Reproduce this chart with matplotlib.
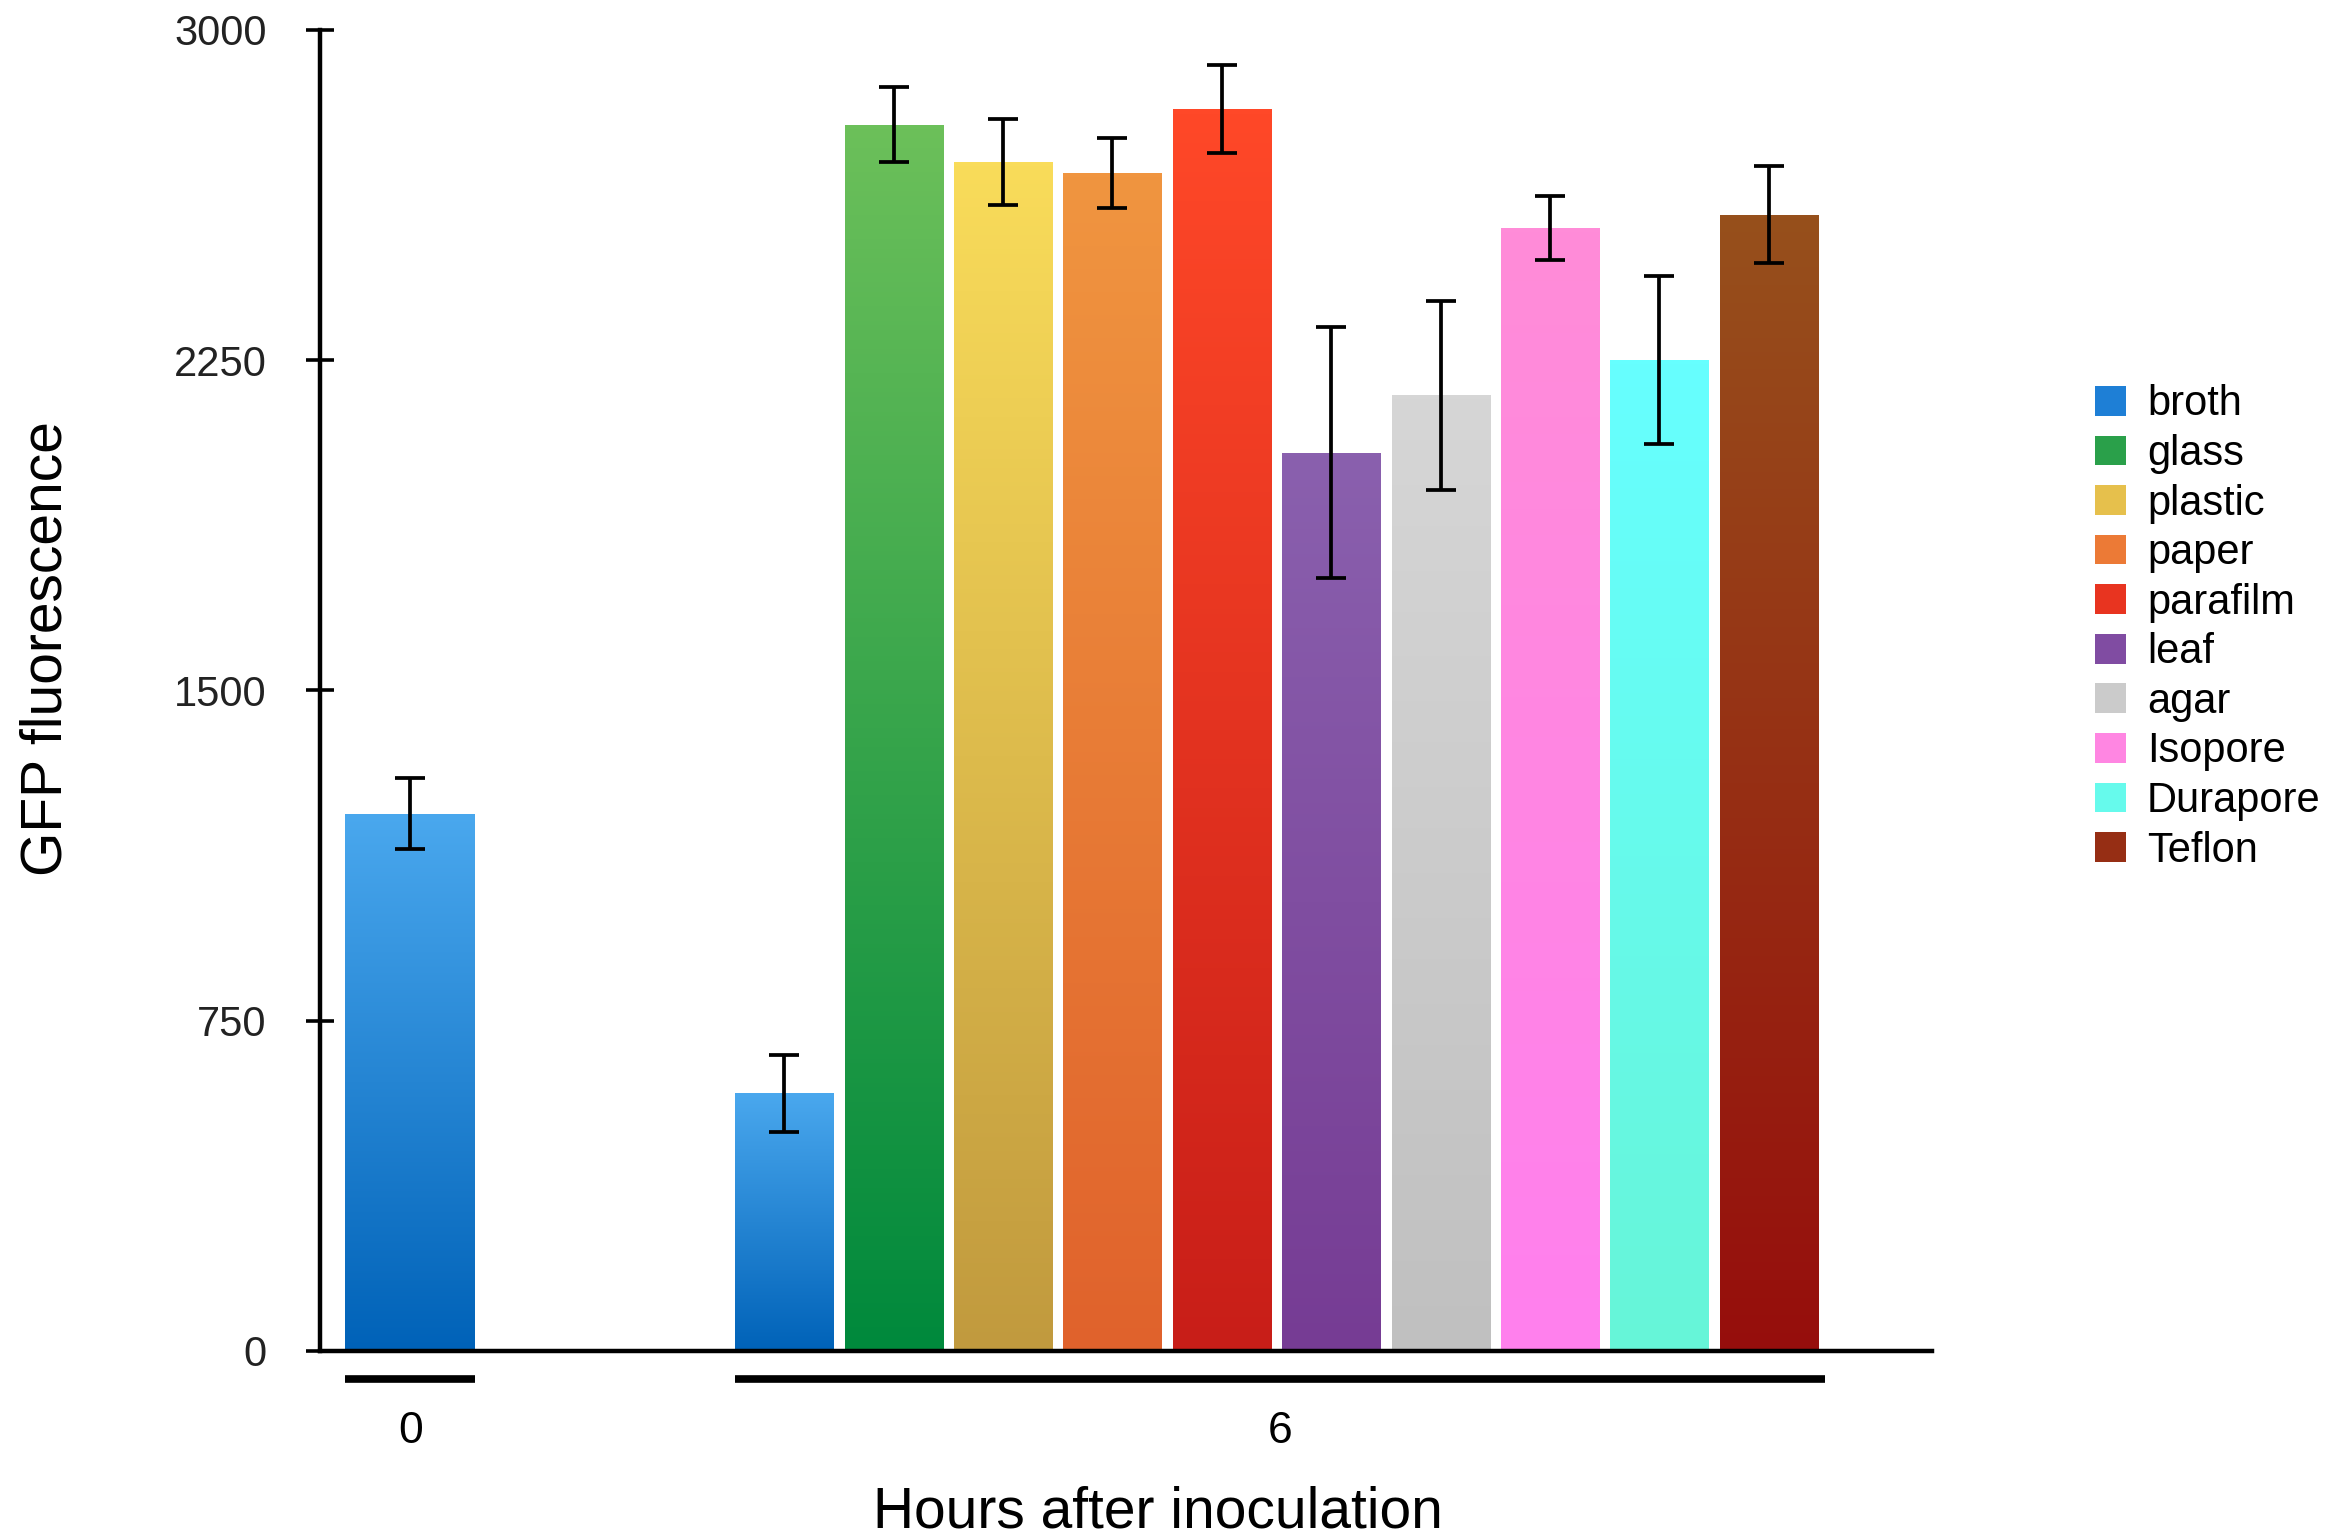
import matplotlib
matplotlib.use("Agg")
import matplotlib.pyplot as plt
import numpy as np
from matplotlib.colors import LinearSegmentedColormap
from matplotlib.patches import Patch
import matplotlib.transforms as mtransforms

# ---- data ----
surfaces = ["broth", "glass", "plastic", "paper", "parafilm", "leaf", "agar",
            "Isopore", "Durapore", "Teflon"]
hours = ["0", "6"]
broth_0h = 1220
broth_0h_err = 80
values_6h = [585, 2785, 2700, 2675, 2820, 2040, 2170, 2550, 2250, 2580]
errors_6h = [88, 85, 98, 80, 100, 285, 215, 72, 190, 110]
yticks = [0, 750, 1500, 2250, 3000]

top_colors = ["#4AA8EE", "#6CC05A", "#F9DC5A", "#F09540", "#FF4828",
              "#8A60AE", "#D6D6D6", "#FF8CD8", "#66FFFF", "#96501C"]
bot_colors = ["#0062B8", "#00893C", "#C19A3E", "#E0622C", "#C81E18",
              "#763C94", "#C0C0C0", "#FF80EE", "#66F5D8", "#960E0C"]
legend_colors = ["#1E7FD6", "#2AA04A", "#E6C04C", "#EC7A36", "#E83420",
                 "#804CA2", "#CBCBCB", "#FF86E2", "#66FAEC", "#962E14"]

plt.rcParams['font.family'] = ['Liberation Sans', 'DejaVu Sans']

fig = plt.figure(figsize=(23.33, 15.38), dpi=100)
ax = fig.add_axes([0.137, 0.1216, 0.691, 0.859])

x0 = 0.75
w0 = 1.19
x6 = 4.18 + np.arange(len(values_6h)) * 1.003
w6 = 0.9

def grad_bar(x, h, w, ci):
    bars = ax.bar(x, h, width=w, color=bot_colors[ci], edgecolor="none", zorder=2)
    for b in bars:
        bx, by = b.get_x(), b.get_y()
        bw, bh = b.get_width(), b.get_height()
        cmap = LinearSegmentedColormap.from_list("g", [bot_colors[ci], top_colors[ci]])
        grad = np.linspace(0, 1, 256).reshape(-1, 1)
        im = ax.imshow(grad, cmap=cmap, origin="lower", aspect="auto",
                       extent=[bx, bx + bw, by, by + bh], zorder=2.5)
        im.set_clip_path(b)

grad_bar([x0], [broth_0h], w0, 0)
for i, (x, v) in enumerate(zip(x6, values_6h)):
    grad_bar([x], [v], w6, i)

ekw = dict(fmt="none", ecolor="black", elinewidth=2.7, capsize=11, capthick=2.7, zorder=4)
ax.errorbar([x0], [broth_0h], yerr=[broth_0h_err], **ekw)
ax.errorbar(x6, values_6h, yerr=errors_6h, **ekw)

ax.set_xlim(-0.08, 14.7)
ax.set_ylim(0, 3000)
ax.set_yticks(yticks)
ax.set_yticklabels([str(t) for t in yticks], fontsize=30, color="#222222")
ax.tick_params(axis="y", direction="inout", length=20, width=2.6, pad=28)
ax.set_xticks([])
for s in ["top", "right"]:
    ax.spines[s].set_visible(False)
ax.spines["left"].set_linewidth(3.2)
ax.spines["bottom"].set_linewidth(3.2)
ax.set_facecolor("white")

ax.set_ylabel("GFP fluorescence", fontsize=41, labelpad=72)
ax.yaxis.label.set_y(0.532)

# group brackets
trans = mtransforms.blended_transform_factory(ax.transData, ax.transAxes)
groups = [(x0 - w0 / 2, x0 + w0 / 2), (x6[0] - w6 / 2, x6[-1] + w6 / 2 + 0.06)]
for (a, b), lab in zip(groups, hours):
    ax.plot([a, b], [-0.021, -0.021], color="black", lw=5.5, transform=trans,
            clip_on=False, solid_capstyle="butt")
    ax.text((a + b) / 2, -0.061, lab, transform=trans, ha="center", va="center",
            fontsize=32)

fig.text(1158 / 2333, 1 - 1512 / 1538, "Hours after inoculation", ha="center", va="center",
         fontsize=41)

handles = [Patch(facecolor=c, edgecolor="none") for c in legend_colors]
fig.legend(handles, surfaces, loc="center left", bbox_to_anchor=(0.889, 0.592),
           frameon=False, fontsize=30, handlelength=0.75, handleheight=0.72,
           handletextpad=0.5, labelspacing=0.23, borderpad=0)

fig.savefig("out.png", dpi=100, facecolor="white")
